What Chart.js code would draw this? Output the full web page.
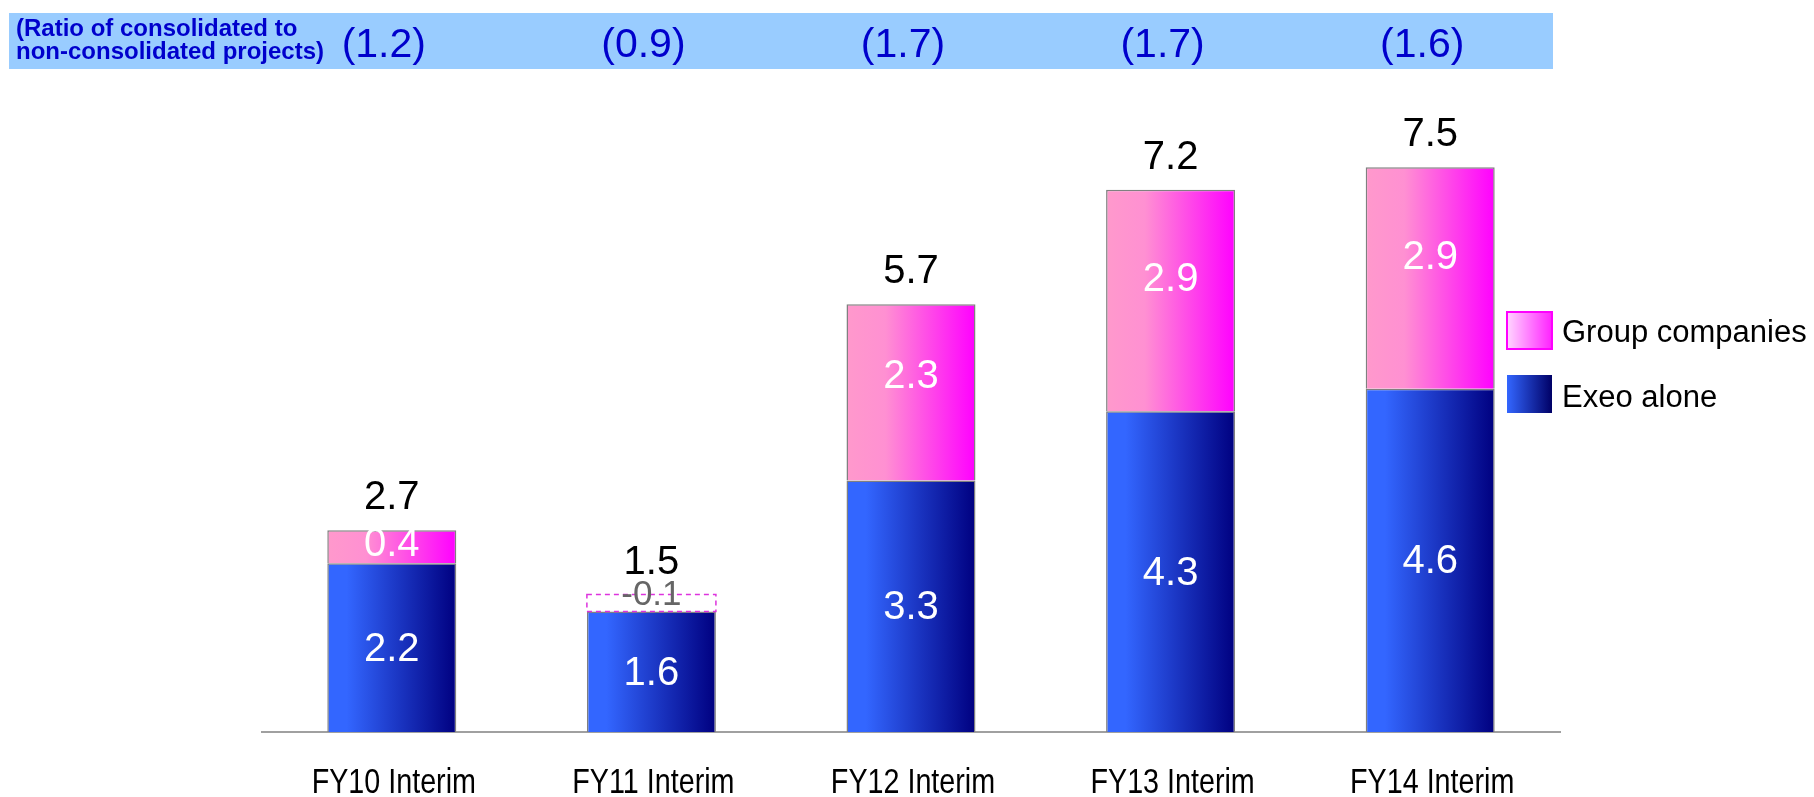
<!DOCTYPE html>
<html>
<head>
<meta charset="utf-8">
<title>Consolidated projects</title>
<script src="https://cdn.jsdelivr.net/npm/chart.js@4.4.1/dist/chart.umd.min.js"></script>
<style>
    html, body { margin: 0; padding: 0; background: #fff; }
    #chart1 { display: block; }
</style>
</head>
<body>
<canvas id="chart1" width="1814" height="797"></canvas>
<script>
// Chart data
const categories = ['FY10 Interim', 'FY11 Interim', 'FY12 Interim', 'FY13 Interim', 'FY14 Interim'];
const exeoAlone = [2.24, 1.6, 3.34, 4.26, 4.56];
const groupCompanies = [0.44, -0.1, 2.34, 2.94, 2.94];
const ratioLabels = ['(1.2)', '(0.9)', '(1.7)', '(1.7)', '(1.6)'];
const ratioTitle = ['(Ratio of consolidated to', 'non-consolidated projects)'];
const seriesNames = ['Group companies', 'Exeo alone'];
const yMax = 8;

const BAR_PCT = 0.497;
const SANS = "'Liberation Sans', Arial, sans-serif";

Chart.defaults.font.family = SANS;

// horizontal gradient across a single bar
function barGradient(context, stops, fallback) {
    const chart = context.chart;
    const x = chart.scales.x;
    if (!chart.chartArea || !x || context.dataIndex === undefined) return fallback;
    const c = x.getPixelForValue(context.dataIndex);
    const half = x.width / categories.length * BAR_PCT / 2;
    const g = chart.ctx.createLinearGradient(c - half, 0, c + half, 0);
    stops.forEach(s => g.addColorStop(s[0], s[1]));
    return g;
}

const blueStops = [[0, '#3366ff'], [0.15, '#3366ff'], [1, '#000080']];
const pinkStops = [[0, '#ff99cc'], [0.3, '#ff90d2'], [1, '#ff00ff']];

// ratio band, category names, legend, value labels
const decorations = {
    id: 'decorations',
    beforeDraw(chart) {
        const ctx = chart.ctx;
        const x = chart.scales.x;
        ctx.save();
        ctx.fillStyle = '#99ccff';
        ctx.fillRect(9, 13, 1544, 56);

        ctx.fillStyle = '#0000cc';
        ctx.font = 'bold 24px ' + SANS;
        ctx.textAlign = 'left';
        ctx.textBaseline = 'alphabetic';
        ctx.fillText(ratioTitle[0], 16, 36);
        ctx.fillText(ratioTitle[1], 16, 59);

        ctx.font = '41px ' + SANS;
        ctx.textAlign = 'center';
        ctx.textBaseline = 'middle';
        ratioLabels.forEach((t, i) => {
            ctx.fillText(t, x.getPixelForValue(i) - 8, 46);
        });

        // narrow category names under the axis
        ctx.font = '35px ' + SANS;
        ctx.fillStyle = '#000000';
        ctx.textBaseline = 'alphabetic';
        categories.forEach((t, i) => {
            ctx.save();
            ctx.translate(x.getPixelForValue(i) + 2, 793);
            ctx.scale(0.82, 1);
            ctx.fillText(t, 0, 0);
            ctx.restore();
        });
        ctx.restore();
    },
    afterDatasetsDraw(chart) {
        const ctx = chart.ctx;
        const exeoMeta = chart.getDatasetMeta(0);
        const groupMeta = chart.getDatasetMeta(1);
        ctx.save();
        ctx.textAlign = 'center';

        categories.forEach((c, i) => {
            const eb = exeoMeta.data[i];
            const gb = groupMeta.data[i];
            const total = exeoAlone[i] + groupCompanies[i];
            let top;

            ctx.font = '40px ' + SANS;
            ctx.fillStyle = '#ffffff';
            ctx.textBaseline = 'middle';
            ctx.fillText(exeoAlone[i].toFixed(1), eb.x, (eb.y + eb.base) / 2 + 2);

            if (groupCompanies[i] >= 0) {
                ctx.fillText(groupCompanies[i].toFixed(1), gb.x, gb.y + (gb.base - gb.y) * 0.4 + 2);
                top = gb.y;
            } else {
                // negative contribution: dashed outline on top of the bar
                const w = eb.width;
                top = eb.y - 17;
                ctx.setLineDash([5, 4]);
                ctx.strokeStyle = '#dd33dd';
                ctx.lineWidth = 1.5;
                ctx.strokeRect(eb.x - w / 2, top, w, 17);
                ctx.setLineDash([]);
                ctx.font = '35px ' + SANS;
                ctx.fillStyle = '#666666';
                ctx.fillText(groupCompanies[i].toFixed(1), eb.x, top + 1);
            }

            ctx.font = '40px ' + SANS;
            ctx.fillStyle = '#000000';
            ctx.textBaseline = 'alphabetic';
            ctx.fillText(total.toFixed(1), eb.x, top - 21);
        });

        // legend
        const lx = 1507, lw = 45;
        let g = ctx.createLinearGradient(lx, 0, lx + lw, 0);
        g.addColorStop(0, '#ffd6ff');
        g.addColorStop(1, '#ff22ff');
        ctx.fillStyle = g;
        ctx.fillRect(lx, 312, lw, 37);
        ctx.strokeStyle = '#ff00ff';
        ctx.lineWidth = 2;
        ctx.strokeRect(lx, 312, lw, 37);

        g = ctx.createLinearGradient(lx, 0, lx + lw, 0);
        g.addColorStop(0, '#3366ff');
        g.addColorStop(1, '#000066');
        ctx.fillStyle = g;
        ctx.fillRect(lx, 375, lw, 38);

        ctx.fillStyle = '#000000';
        ctx.font = '31px ' + SANS;
        ctx.textAlign = 'left';
        ctx.textBaseline = 'middle';
        ctx.fillText(seriesNames[0], 1562, 333);
        ctx.fillText(seriesNames[1], 1562, 398);
        ctx.restore();
    }
};

new Chart(document.getElementById('chart1'), {
    type: 'bar',
    data: {
        labels: categories,
        datasets: [
            {
                label: seriesNames[1],
                data: exeoAlone,
                backgroundColor: ctx => barGradient(ctx, blueStops, '#2244cc'),
                borderColor: '#808080',
                borderWidth: 1.5,
                barPercentage: BAR_PCT,
                categoryPercentage: 1
            },
            {
                label: seriesNames[0],
                // negative values are shown as an outline, not a bar
                data: groupCompanies.map(v => v >= 0 ? v : null),
                backgroundColor: ctx => barGradient(ctx, pinkStops, '#ff66dd'),
                borderColor: '#808080',
                borderWidth: 1.5,
                barPercentage: BAR_PCT,
                categoryPercentage: 1
            }
        ]
    },
    options: {
        responsive: false,
        animation: false,
        devicePixelRatio: 1,
        layout: { padding: { left: 262, right: 254, top: 129.6, bottom: 0 } },
        plugins: {
            legend: { display: false },
            tooltip: { enabled: false }
        },
        scales: {
            x: {
                stacked: true,
                offset: true,
                grid: { display: false },
                border: { display: true, color: '#a0a0a0', width: 2 },
                ticks: { display: false },
                afterFit(scale) { scale.height = 65; }
            },
            y: {
                stacked: true,
                display: false,
                min: 0,
                max: yMax
            }
        }
    },
    plugins: [decorations]
});
</script>
</body>
</html>
